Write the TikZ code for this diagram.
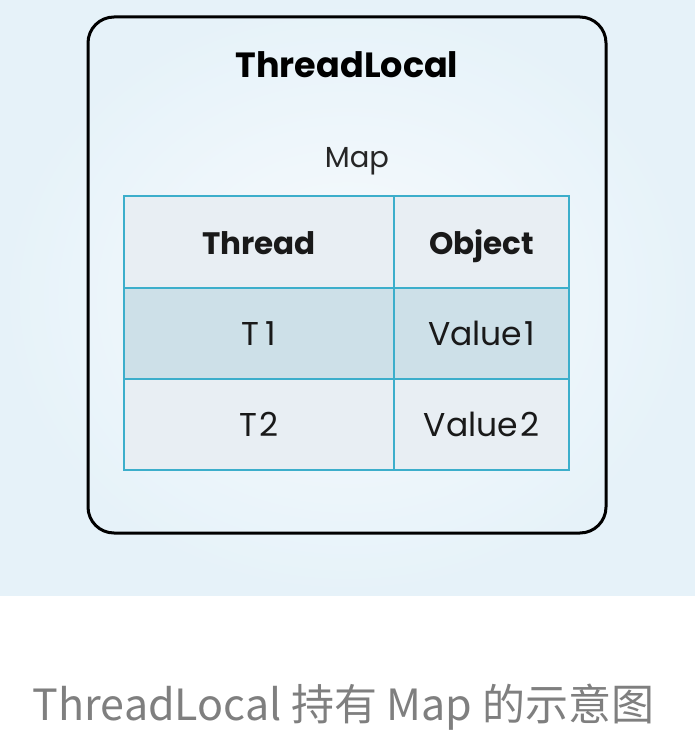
\documentclass[tikz,border=0pt]{standalone}
\usepackage{fontspec}
\setmainfont{Poppins}
\newfontfamily\cjk{Noto Sans CJK SC}
\definecolor{bgout}{HTML}{E6F2F9}
\definecolor{bgin}{HTML}{F8FBFD}
\definecolor{hdr}{HTML}{E8EEF3}
\definecolor{hl}{HTML}{CDE0E8}
\definecolor{grid}{HTML}{3CAECB}
\definecolor{capgray}{HTML}{7F7F7F}
\begin{document}
\begin{tikzpicture}[x=1pt,y=-1pt,
  outerbox/.style={draw=black, line width=3pt, rounded corners=26pt, inner sep=0pt},
  cell/.style={draw=grid, line width=2pt, inner sep=0pt, text=black!90},
  wide/.style={cell, minimum width=270pt, minimum height=91.5pt},
  narrow/.style={cell, minimum width=175pt, minimum height=91.5pt},
  celltext/.style={font=\fontsize{33}{38}\selectfont, text height=24pt, text depth=0pt},
  headtext/.style={font=\fontsize{31}{36}\selectfont\bfseries, text height=24pt, text depth=0pt},
]
\useasboundingbox (0,0) rectangle (695,741);
\fill[white] (0,0) rectangle (695,741);
\shade[inner color=bgin, outer color=bgout] (0,0) rectangle (695,595);
\node[outerbox, minimum width=518pt, minimum height=516pt] (outer) at (347,275) {};
\node[font=\fontsize{35}{40}\selectfont\bfseries, text=black] (title) at (347,65) {ThreadLocal};
\node[font=\fontsize{29}{34}\selectfont, text=black!85] (map) at (357,161) {Map};
\node[wide, fill=hdr, headtext] (h1) at (259,242) {Thread};
\node[narrow, fill=hdr, headtext] (h2) at (481.5,242) {Object};
\node[wide, fill=hl, celltext] (a1) at (259,333.5) {T\kern6pt1};
\node[narrow, fill=hl, celltext] (a2) at (481.5,333.5) {Value\kern2pt1};
\node[wide, fill=hdr, celltext] (b1) at (259,424.5) {T\kern3pt2};
\node[narrow, fill=hdr, celltext] (b2) at (481.5,424.5) {Value\kern2pt2};
\node[font=\cjk\fontsize{43}{50}\selectfont, text=capgray] (cap) at (343.5,707) {ThreadLocal 持有 Map 的示意图};
\end{tikzpicture}
\end{document}
